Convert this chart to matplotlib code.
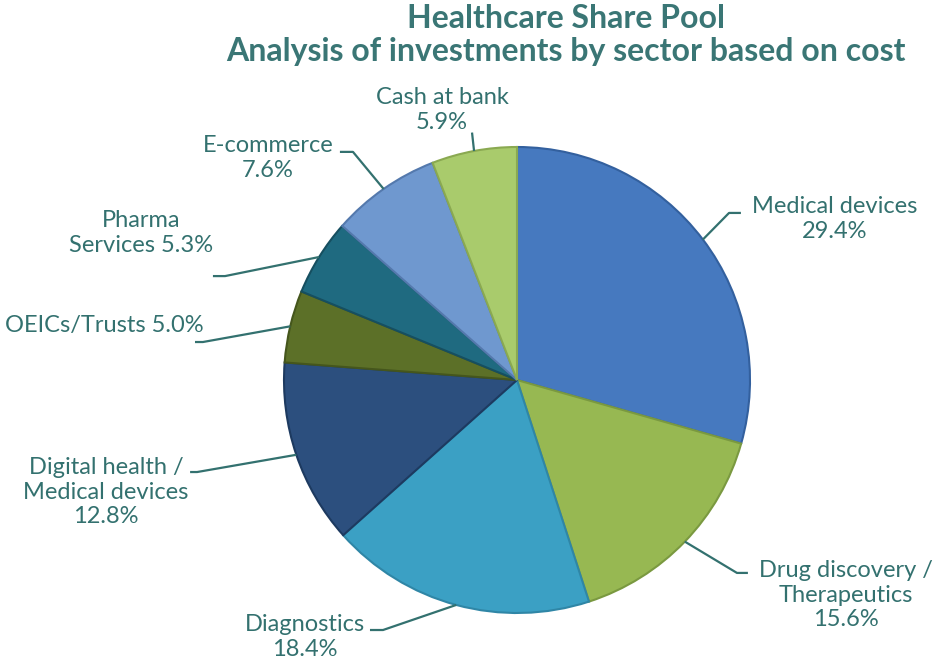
import numpy as np
import matplotlib
matplotlib.use("Agg")
import matplotlib.pyplot as plt

plt.rcParams['font.family'] = ['Lato', 'DejaVu Sans']

# Sector shares (% of cost), clockwise from 12 o'clock
sectors = ['Medical devices', 'Drug discovery /\nTherapeutics', 'Diagnostics',
           'Digital health /\nMedical devices', 'OEICs/Trusts', 'Pharma\nServices',
           'E-commerce', 'Cash at bank']
shares = [29.4, 15.6, 18.4, 12.8, 5.0, 5.3, 7.6, 5.9]
colors = ['#4679bf', '#97b852', '#3ba0c4', '#2c4f7e', '#5c7028', '#1f6a80',
          '#6f98cf', '#a9cb6c']
edges = ['#33609e', '#7a9940', '#2f86a6', '#1d3a60', '#45561c', '#164f60',
         '#5479ad', '#8aa951']

# label texts (how the number is joined to the name)
label_texts = [
    'Medical devices\n29.4%',
    'Drug discovery /\nTherapeutics\n15.6%',
    'Diagnostics\n18.4%',
    'Digital health /\nMedical devices\n12.8%',
    'OEICs/Trusts 5.0%',
    'Pharma\nServices 5.3%',
    'E-commerce\n7.6%',
    'Cash at bank\n5.9%',
]
# label centre, leader elbow, leader end (axes data units, radius = 1)
label_pos = [(1.365, 0.691), (1.412, -0.923), (-0.910, -1.103), (-1.764, -0.481),
             (-1.773, 0.236), (-1.614, 0.631), (-1.069, 0.953), (-0.322, 1.159)]
elbows = [(0.910, 0.717), (0.944, -0.828), (-0.575, -1.073), (-1.373, -0.395),
          (-1.348, 0.163), (-1.253, 0.446), (-0.704, 0.979), (-0.193, 1.062)]
line_ends = [(0.961, 0.717), (0.991, -0.828), (-0.631, -1.073), (-1.403, -0.395),
             (-1.382, 0.163), (-1.305, 0.446), (-0.760, 0.979), (-0.193, 1.062)]

teal = '#33716f'
title_teal = '#3a7675'

fig = plt.figure(figsize=(9.36, 6.64), dpi=100)
W, H = 936, 664
cx, cy, r = 517, 380, 233
ax = fig.add_axes([(cx - r) / W, (H - cy - r) / H, 2 * r / W, 2 * r / H])

wedges, _ = ax.pie(shares, colors=colors, startangle=90, counterclock=False,
                   radius=1.0, wedgeprops=dict(linewidth=1.5))
for w, ec in zip(wedges, edges):
    w.set_edgecolor(ec)

for w, txt, lp, el, le in zip(wedges, label_texts, label_pos, elbows, line_ends):
    mid = np.deg2rad((w.theta1 + w.theta2) / 2)
    x0, y0 = np.cos(mid), np.sin(mid)
    ax.plot([x0, el[0], le[0]], [y0, el[1], le[1]], color=teal, lw=1.6,
            clip_on=False, solid_capstyle='butt')
    ax.text(lp[0], lp[1], txt, ha='center', va='center', fontsize=17,
            color=teal, linespacing=1.2)

ax.set_xlim(-1, 1)
ax.set_ylim(-1, 1)
ax.axis('off')

fig.text(566 / W, 1 - 18 / H, 'Healthcare Share Pool', ha='center', va='center',
         fontsize=23, fontweight='bold', color=title_teal)
fig.text(566 / W, 1 - 52 / H, 'Analysis of investments by sector based on cost',
         ha='center', va='center', fontsize=23, fontweight='bold', color=title_teal)

fig.savefig('out.png', dpi=100)
